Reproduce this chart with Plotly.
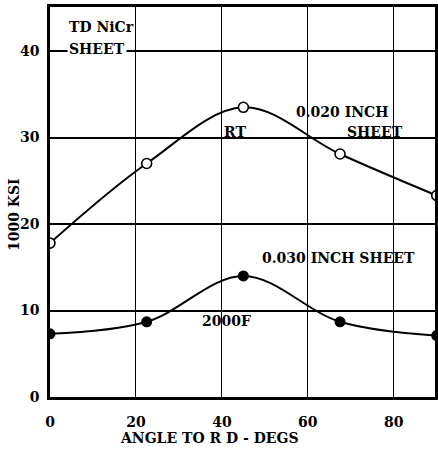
import plotly.graph_objects as go

angles = [0, 22.5, 45, 67.5, 90]
rt_020 = [17.8, 27.0, 33.5, 28.1, 23.3]
hot_030 = [7.3, 8.7, 14.0, 8.7, 7.1]
x_ticks = [0, 20, 40, 60, 80]
y_ticks = [0, 10, 20, 30, 40]
x_title = "ANGLE TO R D - DEGS"
y_title = "1000 KSI"

FONT = "DejaVu Serif"
fig = go.Figure()
fig.add_trace(go.Scatter(x=angles, y=rt_020, mode="lines+markers",
                         line=dict(shape="spline", smoothing=1.0, color="black", width=2),
                         marker=dict(symbol="circle", size=10, color="white",
                                     line=dict(color="black", width=1.6))))
fig.add_trace(go.Scatter(x=angles, y=hot_030, mode="lines+markers",
                         line=dict(shape="spline", smoothing=1.0, color="black", width=2),
                         marker=dict(symbol="circle", size=11, color="black")))

annots = [
    ("TD NiCr", 4.0, 42.8, "left", False),
    ("SHEET", 4.0, 40.2, "left", True),
    ("0.020 INCH", 68.0, 33.0, "center", False),
    ("SHEET", 75.7, 30.6, "center", False),
    ("RT", 43.0, 30.6, "center", False),
    ("0.030 INCH SHEET", 67.2, 16.1, "center", False),
    ("2000F", 41.0, 8.8, "center", False),
]
for t, x, y, al, bg in annots:
    fig.add_annotation(x=x, y=y, text=t, showarrow=False, xanchor=al,
                       bgcolor="white" if bg else None,
                       font=dict(family=FONT, size=14, color="black", weight="bold"))

# axis titles
fig.add_annotation(xref="paper", yref="paper", x=0.415, y=-0.105, text=x_title,
                   showarrow=False, xanchor="center", yanchor="middle",
                   font=dict(family=FONT, size=14, color="black", weight="bold"))
fig.add_annotation(xref="paper", yref="paper", x=-0.093, y=0.467, text=y_title,
                   showarrow=False, xanchor="center", yanchor="middle", textangle=-90,
                   font=dict(family=FONT, size=14, color="black", weight="bold"))

fig.update_layout(
    width=438, height=451, showlegend=False,
    margin=dict(l=50, r=0, t=7, b=54),
    plot_bgcolor="white", paper_bgcolor="white",
    font=dict(family=FONT, size=14, color="black", weight="bold"),
)
fig.update_xaxes(range=[0, 89.6], tickvals=x_ticks, showgrid=True, gridcolor="black",
                 gridwidth=1.3, showline=True, linecolor="black", linewidth=2.5,
                 mirror=True, zeroline=False, ticks="", ticklabelstandoff=10,
                 tickfont=dict(family=FONT, size=14, weight="bold"))
fig.update_yaxes(range=[0, 45.1], tickvals=y_ticks, showgrid=True, gridcolor="black",
                 gridwidth=2, showline=True, linecolor="black", linewidth=2.5,
                 mirror=True, zeroline=False, ticks="", ticklabelstandoff=5,
                 tickfont=dict(family=FONT, size=14, weight="bold"))
fig.write_html("out.html")
